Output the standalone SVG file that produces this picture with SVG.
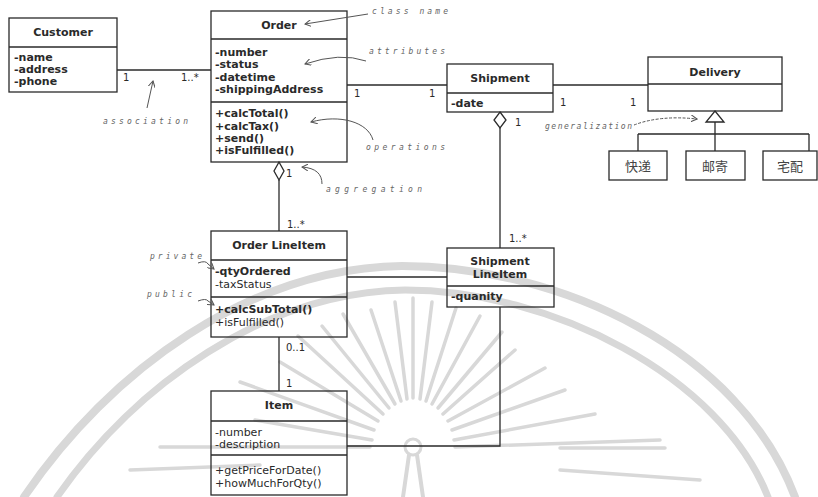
<svg xmlns="http://www.w3.org/2000/svg" width="818" height="497" viewBox="0 0 818 497">
  <defs>
    <style>
      .box { fill: none; stroke: #2a2a2a; stroke-width: 1.3; }
      .div { stroke: #2a2a2a; stroke-width: 1.3; fill: none; }
      .ttl { font-family: "DejaVu Sans", Verdana, sans-serif; font-size: 11px; font-weight: bold; fill: #2a2a2a; text-anchor: middle; }
      .mem { font-family: "DejaVu Sans", Verdana, sans-serif; font-size: 11px; font-weight: bold; fill: #2a2a2a; }
      .mem2 { font-family: "DejaVu Sans", Verdana, sans-serif; font-size: 11px; fill: #2a2a2a; }
      .cjk { font-family: "Noto Sans CJK SC", sans-serif; font-size: 13px; fill: #444; text-anchor: middle; }
      .mult { font-family: "DejaVu Sans", Verdana, sans-serif; font-size: 10px; fill: #2a2a2a; }
      .line { stroke: #2a2a2a; stroke-width: 1.3; fill: none; }
      .note { font-family: "DejaVu Sans Mono", monospace; font-style: italic; font-size: 8px; fill: #666; }
      .noteArrow { stroke: #555; stroke-width: 1; fill: none; marker-end: url(#vhead); }
      .wm { stroke: #d8d8d8; fill: none; stroke-linecap: round; }
    </style>
    <marker id="vhead" viewBox="0 0 8 8" refX="7" refY="4" markerWidth="7" markerHeight="7" orient="auto" markerUnits="userSpaceOnUse">
      <path d="M0,0 L7,4 L0,8" fill="none" stroke="#555" stroke-width="1.2"/>
    </marker>
  </defs>

  <rect width="818" height="497" fill="#ffffff"/>

  <!-- background seal -->
  <g id="seal">
    <path class="wm" stroke-width="8" d="M24,497 C110,370 250,268 402,266 C560,266 740,350 795,497"/>
    <path class="wm" stroke-width="7" d="M57,497 C135,385 265,292 405,290 C550,290 720,375 768,497"/>
    <g stroke-width="3.5" class="wm">
      <line x1="372" y1="440" x2="255" y2="420"/>
      <line x1="374" y1="430" x2="240" y2="382"/>
      <line x1="378" y1="421" x2="280" y2="362"/>
      <line x1="383" y1="414" x2="298" y2="336"/>
      <line x1="389" y1="408" x2="322" y2="326"/>
      <line x1="395" y1="404" x2="343" y2="314"/>
      <line x1="401" y1="401" x2="371" y2="310"/>
      <line x1="407" y1="399" x2="395" y2="302"/>
      <line x1="413" y1="398" x2="413" y2="298"/>
      <line x1="420" y1="399" x2="432" y2="302"/>
      <line x1="426" y1="401" x2="456" y2="308"/>
      <line x1="432" y1="404" x2="480" y2="316"/>
      <line x1="438" y1="408" x2="502" y2="332"/>
      <line x1="443" y1="414" x2="515" y2="350"/>
      <line x1="448" y1="421" x2="545" y2="368"/>
      <line x1="452" y1="430" x2="565" y2="390"/>
      <line x1="454" y1="440" x2="595" y2="414"/>
      <line x1="455" y1="447" x2="660" y2="440"/>
      <line x1="160" y1="447" x2="370" y2="447"/>
      <line x1="560" y1="448" x2="665" y2="448"/>
      <line x1="560" y1="470" x2="700" y2="480"/>
      <line x1="130" y1="470" x2="260" y2="465"/>
    </g>
    <circle cx="413" cy="447" r="8" fill="none" stroke="#d8d8d8" stroke-width="3"/>
    <path d="M409,455 L403,497 M417,455 L423,497" class="wm" stroke-width="4"/>
  </g>

  <!-- connectors -->
  <g id="connectors">
    <path class="line" d="M117,70 H211"/>
    <path class="line" d="M347,85 H447"/>
    <path class="line" d="M553,85 H648"/>
    <polygon points="279,162 284,171 279,180 274,171" fill="#ffffff" stroke="#2a2a2a" stroke-width="1.3"/>
    <path class="line" d="M279,180 V231"/>
    <polygon points="500,112 506,120 500,128 494,120" fill="#ffffff" stroke="#2a2a2a" stroke-width="1.3"/>
    <path class="line" d="M500,128 V248"/>
    <path class="line" d="M347,277 H447"/>
    <path class="line" d="M279,337 V391"/>
    <path class="line" d="M500,307 V446 H347"/>
    <polygon points="715,111 724,122 706,122" fill="#ffffff" stroke="#2a2a2a" stroke-width="1.3"/>
    <path class="line" d="M715,122 V134 M638,134 H809 M638,134 V151 M715,134 V151 M809,134 V151"/>

    <!-- multiplicities -->
    <text class="mult" x="123" y="81">1</text>
    <text class="mult" x="181" y="81">1..*</text>
    <text class="mult" x="354" y="97">1</text>
    <text class="mult" x="429" y="97">1</text>
    <text class="mult" x="560" y="106">1</text>
    <text class="mult" x="630" y="106">1</text>
    <text class="mult" x="286" y="177">1</text>
    <text class="mult" x="515" y="126">1</text>
    <text class="mult" x="287" y="228">1..*</text>
    <text class="mult" x="509" y="242">1..*</text>
    <text class="mult" x="286" y="351">0..1</text>
    <text class="mult" x="286" y="387">1</text>
  </g>

  <!-- classes -->
  <g id="customer">
    <rect class="box" x="9" y="18" width="108" height="74"/>
    <path class="div" d="M9,47 H117"/>
    <text class="ttl" x="63" y="36">Customer</text>
    <text class="mem" x="14" y="61">-name</text>
    <text class="mem" x="14" y="73">-address</text>
    <text class="mem" x="14" y="85">-phone</text>
  </g>

  <g id="order">
    <rect class="box" x="211" y="11" width="136" height="151"/>
    <path class="div" d="M211,39 H347 M211,102 H347"/>
    <text class="ttl" x="279" y="29">Order</text>
    <text class="mem" x="215" y="56">-number</text>
    <text class="mem" x="215" y="68">-status</text>
    <text class="mem" x="215" y="81">-datetime</text>
    <text class="mem" x="215" y="93">-shippingAddress</text>
    <text class="mem" x="215" y="117">+calcTotal()</text>
    <text class="mem" x="215" y="130">+calcTax()</text>
    <text class="mem" x="215" y="142">+send()</text>
    <text class="mem" x="215" y="154">+isFulfilled()</text>
  </g>

  <g id="shipment">
    <rect class="box" x="447" y="64" width="106" height="48"/>
    <path class="div" d="M447,93 H553"/>
    <text class="ttl" x="500" y="82">Shipment</text>
    <text class="mem" x="451" y="107">-date</text>
  </g>

  <g id="delivery">
    <rect class="box" x="648" y="57" width="134" height="54"/>
    <path class="div" d="M648,84 H782"/>
    <text class="ttl" x="715" y="76">Delivery</text>
  </g>

  <g id="express">
    <rect class="box" x="609" y="151" width="58" height="29"/>
    <text class="cjk" x="638" y="171">快递</text>
  </g>
  <g id="post">
    <rect class="box" x="686" y="151" width="59" height="29"/>
    <text class="cjk" x="715" y="171">邮寄</text>
  </g>
  <g id="home">
    <rect class="box" x="763" y="151" width="54" height="29"/>
    <text class="cjk" x="790" y="171">宅配</text>
  </g>

  <g id="order-lineitem">
    <rect class="box" x="211" y="231" width="136" height="106"/>
    <path class="div" d="M211,260 H347 M211,297 H347"/>
    <text class="ttl" x="279" y="249">Order LineItem</text>
    <text class="mem" x="215" y="275">-qtyOrdered</text>
    <text class="mem2" x="215" y="288">-taxStatus</text>
    <text class="mem" x="215" y="313">+calcSubTotal()</text>
    <text class="mem2" x="215" y="326">+isFulfilled()</text>
  </g>

  <g id="shipment-lineitem">
    <rect class="box" x="447" y="248" width="107" height="59"/>
    <path class="div" d="M447,286 H554"/>
    <text class="ttl" x="500" y="265">Shipment</text>
    <text class="ttl" x="500" y="278">LineItem</text>
    <text class="mem" x="451" y="300">-quanity</text>
  </g>

  <g id="item">
    <rect class="box" x="211" y="391" width="136" height="104"/>
    <path class="div" d="M211,421 H347 M211,455 H347"/>
    <text class="ttl" x="279" y="409">Item</text>
    <text class="mem2" x="215" y="436">-number</text>
    <text class="mem2" x="215" y="448">-description</text>
    <text class="mem2" x="215" y="474">+getPriceForDate()</text>
    <text class="mem2" x="215" y="487">+howMuchForQty()</text>
  </g>

  <!-- explanatory notes -->
  <g id="notes">
    <text class="note" x="372" y="14" textLength="76" lengthAdjust="spacing">class name</text>
    <path class="noteArrow" d="M368,14 L305,24"/>
    <text class="note" x="369" y="54" textLength="76" lengthAdjust="spacing">attributes</text>
    <path class="noteArrow" d="M366,61 Q340,52 305,64"/>
    <text class="note" x="366" y="150" textLength="79" lengthAdjust="spacing">operations</text>
    <path class="noteArrow" d="M373,140 C368,122 340,114 311,122"/>
    <text class="note" x="326" y="192" textLength="96" lengthAdjust="spacing">aggregation</text>
    <path class="noteArrow" d="M322,184 C322,174 316,168 302,167"/>
    <text class="note" x="103" y="124" textLength="85" lengthAdjust="spacing">association</text>
    <path class="noteArrow" d="M147,108 L153,81"/>
    <text class="note" x="545" y="129" textLength="87" lengthAdjust="spacing">generalization</text>
    <path class="noteArrow" stroke-dasharray="3,1.5" d="M634,125 Q660,115 697,119"/>
    <text class="note" x="150" y="259" textLength="52" lengthAdjust="spacing">private</text>
    <path class="noteArrow" d="M198,263 Q206,260 208,264 L214,269"/>
    <text class="note" x="147" y="297" textLength="45" lengthAdjust="spacing">public</text>
    <path class="noteArrow" d="M198,301 Q206,298 208,301 L214,305"/>
  </g>
</svg>
